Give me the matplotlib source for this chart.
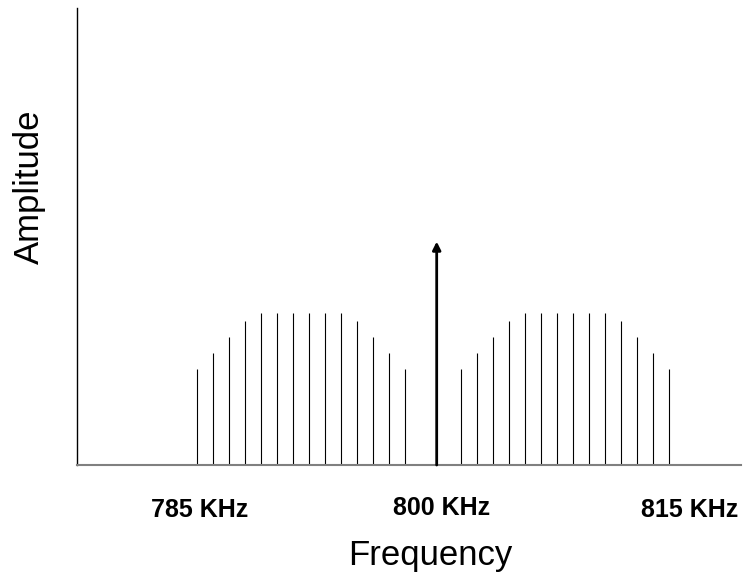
import matplotlib.pyplot as plt

# sideband lines (frequency in KHz, relative amplitude)
lower_freqs = [785, 786, 787, 788, 789, 790, 791, 792, 793, 794, 795, 796, 797, 798]
upper_freqs = [801.5, 802.5, 803.5, 804.5, 805.5, 806.5, 807.5, 808.5, 809.5, 810.5, 811.5, 812.5, 813.5, 814.5]
sideband_amps = [0.63, 0.74, 0.84, 0.95, 1.0, 1.0, 1.0, 1.0, 1.0, 1.0, 0.95, 0.84, 0.74, 0.63]

carrier_freq = 800
carrier_amp = 1.47

tick_labels = ['785 KHz', '800 KHz', '815 KHz']
tick_pos = [785.2, 800.3, 815.8]

plt.rcParams['font.family'] = ['Liberation Sans', 'DejaVu Sans']

fig = plt.figure(figsize=(7.45, 5.83), dpi=100)
ax = fig.add_axes([0.1034, 0.2024, 0.8908, 0.7839])

ax.vlines(lower_freqs, 0, sideband_amps, color='black', lw=0.8)
ax.vlines(upper_freqs, 0, sideband_amps, color='black', lw=0.8)

# carrier arrow
ax.annotate('', xy=(carrier_freq, carrier_amp), xytext=(carrier_freq, 0),
            arrowprops=dict(arrowstyle='-|>', color='black', lw=2,
                            mutation_scale=12, shrinkA=0, shrinkB=0))

ax.set_xlim(777.52, 819.0)
ax.set_ylim(0, 3.007)

ax.spines['top'].set_visible(False)
ax.spines['right'].set_visible(False)
ax.spines['left'].set_color('black')
ax.spines['left'].set_linewidth(1)
ax.spines['bottom'].set_color('#808080')
ax.spines['bottom'].set_linewidth(1.5)
ax.set_xticks([])
ax.set_yticks([])

for pos, lab in zip(tick_pos, tick_labels):
    dy = -0.093 if lab == '800 KHz' else -0.0985
    ax.text(pos, dy, lab, transform=ax.get_xaxis_transform(),
            ha='center', va='center', fontsize=18, fontweight='bold')

fig.text(0.577, 0.048, 'Frequency', ha='center', va='center', fontsize=25)
fig.text(0.039, 0.679, 'Amplitude', ha='center', va='center', fontsize=25, rotation=90)

fig.savefig('out.png', dpi=100)
